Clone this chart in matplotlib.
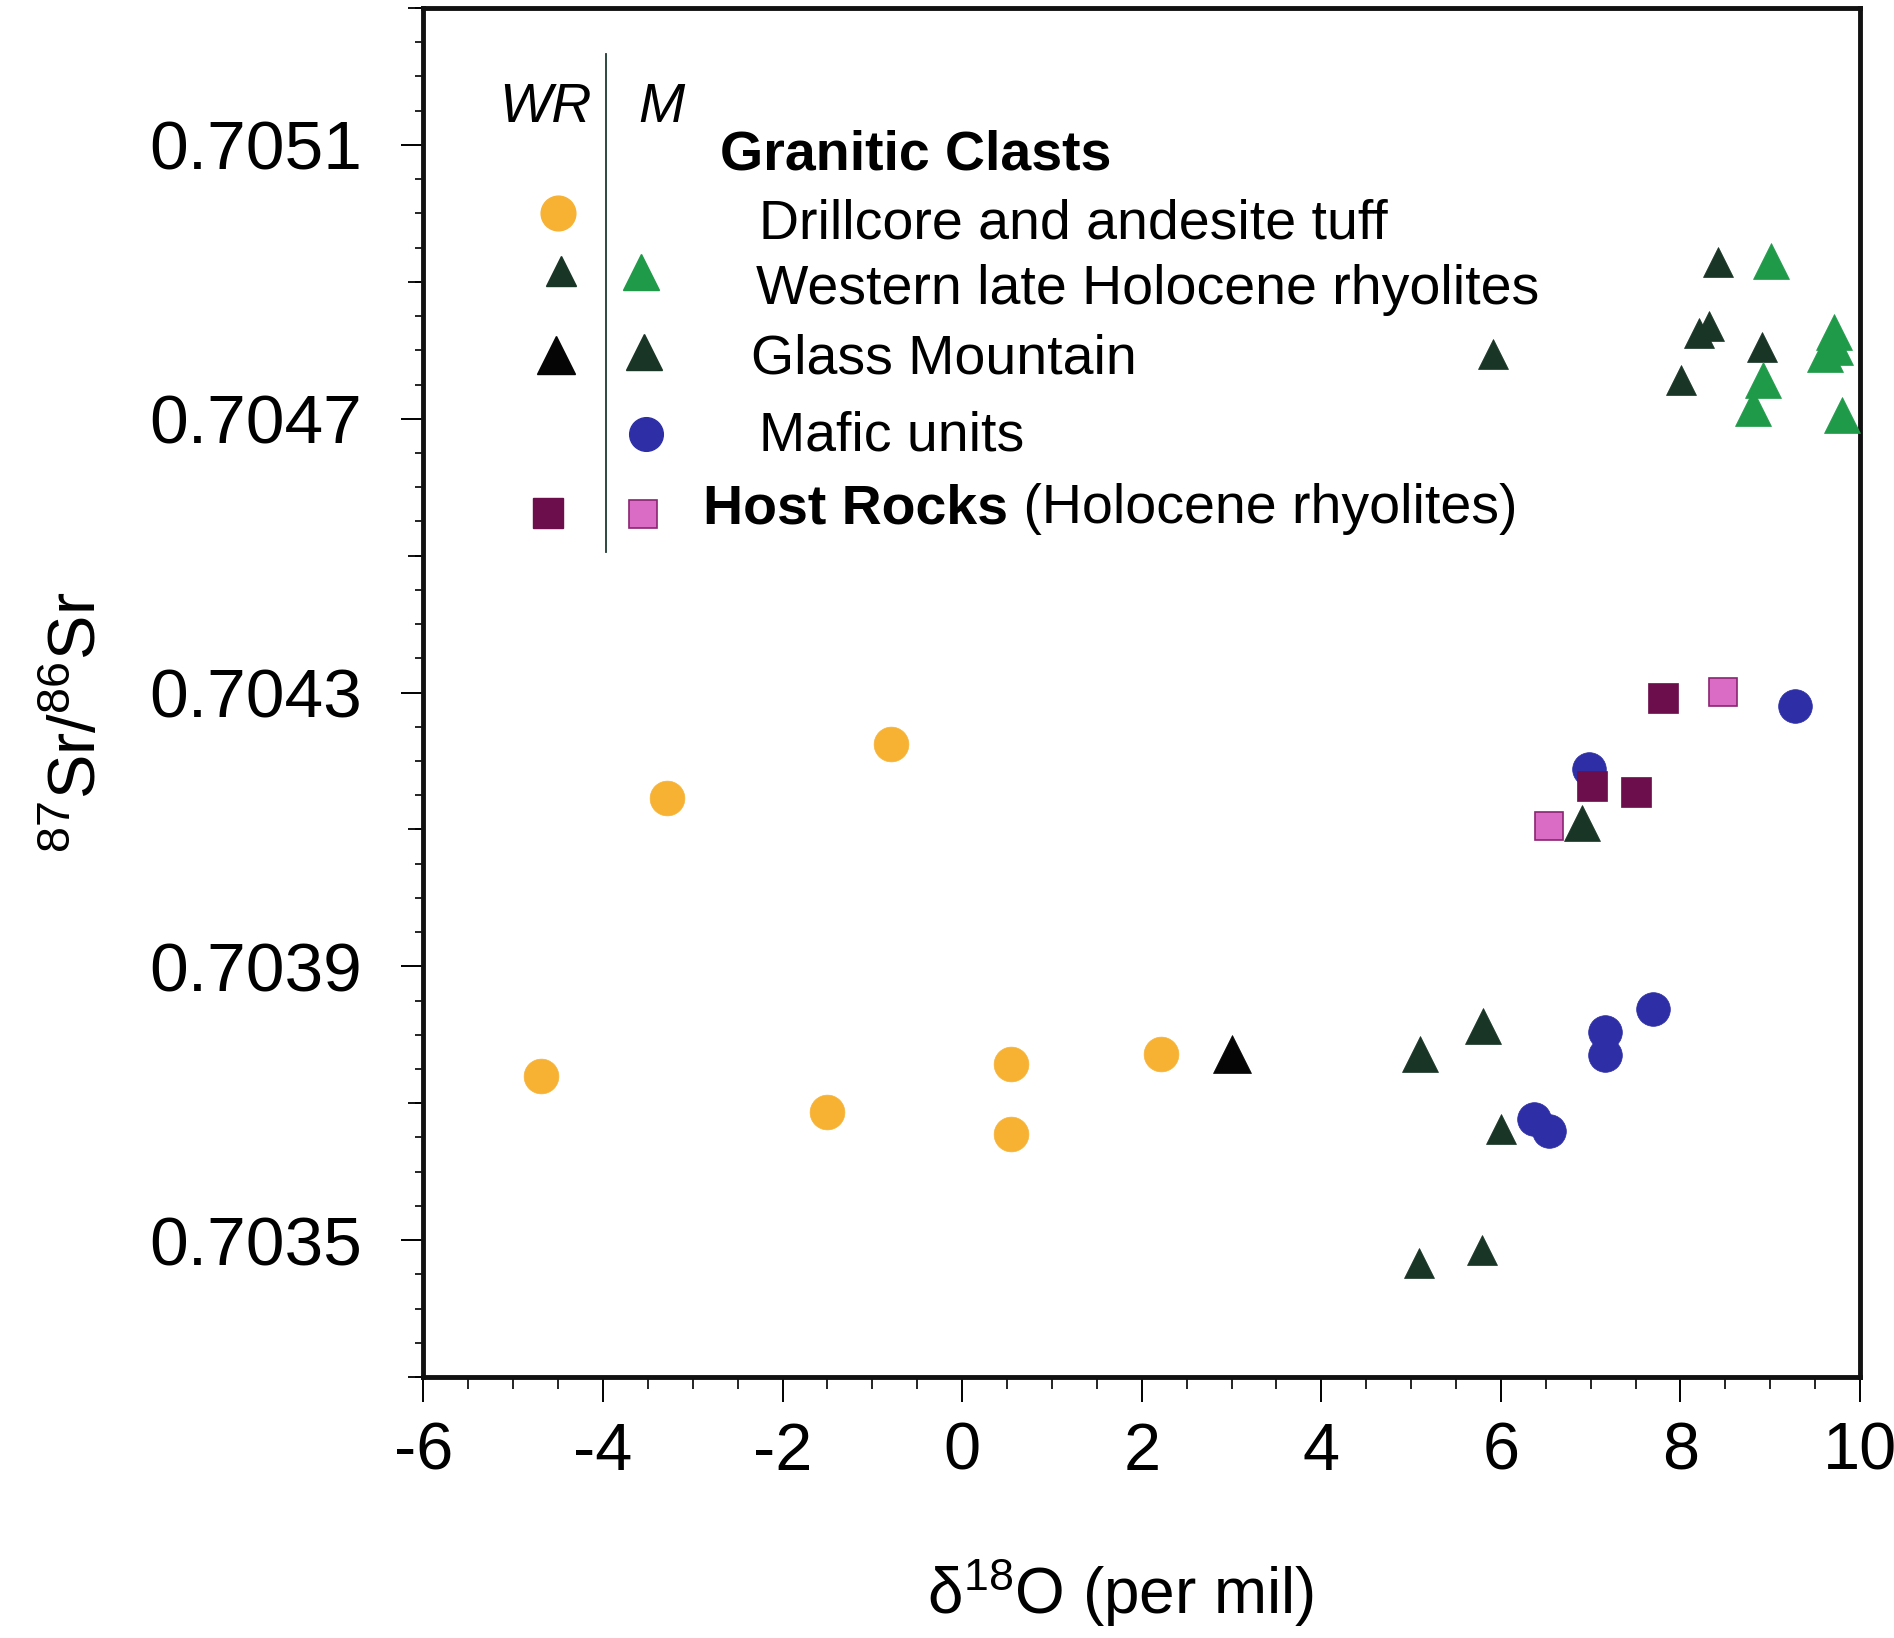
import matplotlib
matplotlib.use("Agg")
import matplotlib.pyplot as plt
from matplotlib.ticker import MultipleLocator, FixedLocator, NullFormatter

plt.rcParams['font.family'] = ['Liberation Sans', 'DejaVu Sans']
plt.rcParams['mathtext.fontset'] = 'custom'
plt.rcParams['mathtext.rm'] = 'Liberation Sans'
plt.rcParams['mathtext.it'] = 'Liberation Sans:italic'
plt.rcParams['mathtext.bf'] = 'Liberation Sans:bold'

# ---------------- data ----------------
drill_x = [-4.69, -3.29, -0.79, -1.50, 0.55, 0.55, 2.21]
drill_y = [0.70374, 0.704146, 0.704225, 0.703687, 0.703758, 0.703655, 0.703772]

mafic_x = [9.28, 6.98, 7.69, 7.16, 7.16, 6.37, 6.54]
mafic_y = [0.704280, 0.704188, 0.703838, 0.703804, 0.703771, 0.703677, 0.703659]

host_wr_x = [7.80, 7.01, 7.50]
host_wr_y = [0.704292, 0.704163, 0.704155]

host_m_x = [8.47, 6.54]
host_m_y = [0.704301, 0.704105]

glass_wr_x = [3.00]
glass_wr_y = [0.703772]

glass_m_x = [5.10, 5.80, 6.90]
glass_m_y = [0.703772, 0.703813, 0.704109]

western_wr_x = [5.91, 8.42, 8.21, 8.32, 8.91, 8.01, 6.00, 5.09, 5.79]
western_wr_y = [0.704795, 0.704929, 0.704825, 0.704836, 0.704805, 0.704756,
                0.703663, 0.703466, 0.703485]

western_m_x = [9.01, 9.71, 9.72, 9.61, 8.92, 8.81, 9.80]
western_m_y = [0.704930, 0.704826, 0.704805, 0.704795, 0.704756, 0.704715, 0.704705]

x_ticks = [-6, -4, -2, 0, 2, 4, 6, 8, 10]
y_ticks = [0.7035, 0.7039, 0.7043, 0.7047, 0.7051]
y_tick_labels = ['0.7035', '0.7039', '0.7043', '0.7047', '0.7051']
y_mid_ticks = [0.7033, 0.7037, 0.7041, 0.7045, 0.7049, 0.7053]

# ---------------- styles ----------------
C_YEL = '#F7B234'
C_BLUE = '#2E2FA6'
C_HWR = '#6C0E4B'
C_HM = '#DB6CC6'
C_HM_EDGE = '#8B2472'
C_BLACK = '#050505'
C_DKGRN = '#193526'
C_GRN = '#1E9A49'

MS_CIRC = 25
MS_BIG_TRI = 26.5
MS_SMALL_TRI = 21
MS_SQ = 21.5

fig = plt.figure(figsize=(18.94, 16.38), dpi=100)
ax = fig.add_axes([0.2235, 0.1593, 0.7586, 0.8358])

ax.plot(drill_x, drill_y, 'o', ms=MS_CIRC, color=C_YEL, mec=C_YEL, mew=0.5, zorder=3)
ax.plot(mafic_x, mafic_y, 'o', ms=MS_CIRC * 0.97, color=C_BLUE, mec=C_BLUE, mew=0.5, zorder=3)
ax.plot(host_wr_x, host_wr_y, 's', ms=MS_SQ, color=C_HWR, mec=C_HWR, mew=0.5, zorder=4)
ax.plot(host_m_x, host_m_y, 's', ms=MS_SQ - 1, color=C_HM, mec=C_HM_EDGE, mew=1.2, zorder=4)
ax.plot(glass_wr_x, glass_wr_y, '^', ms=MS_BIG_TRI + 0.5, color=C_BLACK, mec=C_BLACK, mew=0.5, zorder=5)
ax.plot(glass_m_x, glass_m_y, '^', ms=MS_BIG_TRI - 0.5, color=C_DKGRN, mec=C_DKGRN, mew=0.5, zorder=5)
ax.plot(western_wr_x, western_wr_y, '^', ms=MS_SMALL_TRI, color=C_DKGRN, mec=C_DKGRN, mew=0.5, zorder=5)
ax.plot(western_m_x, western_m_y, '^', ms=MS_BIG_TRI, color=C_GRN, mec=C_GRN, mew=0.5, zorder=5)

ax.set_xlim(-6, 10)
ax.set_ylim(0.7033, 0.7053)

ax.set_xticks(x_ticks)
ax.set_xticklabels([str(v) for v in x_ticks])
ax.xaxis.set_minor_locator(MultipleLocator(0.5))
ax.set_yticks(y_ticks)
ax.set_yticklabels(y_tick_labels)
ax.yaxis.set_minor_locator(MultipleLocator(0.00005))

ax.tick_params(axis='x', which='major', direction='out', length=18, width=1.4,
               labelsize=48, pad=14, top=False)
ax.tick_params(axis='x', which='minor', direction='out', length=8.5, width=1.2, top=False)
ax.tick_params(axis='y', which='major', direction='out', length=16, width=1.4,
               labelsize=50, pad=28, right=False)
ax.tick_params(axis='y', which='minor', direction='out', length=6, width=1.2, right=False)

sec = ax.secondary_yaxis('left')
sec.yaxis.set_major_locator(FixedLocator(y_mid_ticks))
sec.yaxis.set_major_formatter(NullFormatter())
sec.tick_params(axis='y', which='major', direction='out', length=10.5, width=1.3)
sec.yaxis.set_minor_locator(FixedLocator([]))
sec.spines['left'].set_visible(False)

for s in ax.spines.values():
    s.set_linewidth(3.5)
    s.set_color('#111111')

ax.set_xlabel('δ$^{18}$O (per mil)', fontsize=46)
ax.xaxis.set_label_coords(0.485, -0.157)
ax.xaxis.label.set_va('center')
ax.set_ylabel('$^{87}$Sr/$^{86}$Sr', fontsize=48)
ax.yaxis.set_label_coords(-0.240, 0.478)
ax.yaxis.label.set_va('center')

# ---------------- legend (drawn in axes coordinates) ----------------
T = ax.transAxes
LFS = 40
ax.text(0.0853, 0.9170, 'WR', transform=T, fontsize=LFS, style='italic', ha='center', va='baseline')
ax.text(0.1654, 0.9170, 'M', transform=T, fontsize=LFS, style='italic', ha='center', va='baseline')
ax.plot([0.1271, 0.1271], [0.6026, 0.9664], transform=T, color='#1f3a30', lw=1.3, clip_on=False)

ax.text(0.2065, 0.8817, 'Granitic Clasts', transform=T, fontsize=LFS, weight='bold', va='baseline')
ax.text(0.2336, 0.8313, 'Drillcore and andesite tuff', transform=T, fontsize=LFS, va='baseline')
ax.text(0.2315, 0.7841, 'Western late Holocene rhyolites', transform=T, fontsize=LFS, va='baseline')
ax.text(0.2280, 0.7327, 'Glass Mountain', transform=T, fontsize=LFS, va='baseline')
ax.text(0.2336, 0.6766, 'Mafic units', transform=T, fontsize=LFS, va='baseline')
t_host = ax.text(0.1946, 0.6238, 'Host Rocks', transform=T, fontsize=LFS, weight='bold', va='baseline')
ax.annotate(' (Holocene rhyolites)', xy=(1, 0), xycoords=t_host, fontsize=LFS,
            va='bottom', ha='left')

ax.plot([0.0935], [0.8505], 'o', transform=T, ms=MS_CIRC, color=C_YEL, mec=C_YEL, clip_on=False)
ax.plot([0.0956], [0.8077], '^', transform=T, ms=MS_SMALL_TRI, color=C_DKGRN, mec=C_DKGRN, clip_on=False)
ax.plot([0.1515], [0.8074], '^', transform=T, ms=MS_BIG_TRI, color=C_GRN, mec=C_GRN, clip_on=False)
ax.plot([0.0923], [0.7465], '^', transform=T, ms=MS_BIG_TRI + 0.5, color=C_BLACK, mec=C_BLACK, clip_on=False)
ax.plot([0.1536], [0.7487], '^', transform=T, ms=MS_BIG_TRI - 0.5, color=C_DKGRN, mec=C_DKGRN, clip_on=False)
ax.plot([0.1549], [0.6886], 'o', transform=T, ms=MS_CIRC * 0.97, color=C_BLUE, mec=C_BLUE, clip_on=False)
ax.plot([0.0865], [0.6309], 's', transform=T, ms=MS_SQ, color=C_HWR, mec=C_HWR, clip_on=False)
ax.plot([0.1531], [0.6306], 's', transform=T, ms=MS_SQ - 1, color=C_HM, mec=C_HM_EDGE, mew=1.2, clip_on=False)

fig.savefig('out.png', dpi=100)
